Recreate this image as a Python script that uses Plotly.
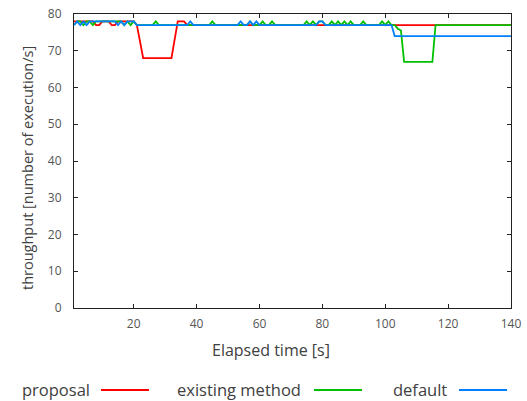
import plotly.graph_objects as go

# ---- data (breakpoints) ----
proposal_t = [1, 7, 8, 9, 10, 12, 13, 14, 15, 20, 21, 22, 23, 32, 33, 34, 36, 37, 140]
proposal_v = [78, 78, 77, 77, 78, 78, 77, 77, 78, 78, 77, 72.5, 68, 68, 73, 78, 78, 77, 77]

existing_t = [1, 2, 3, 4, 5, 6, 7, 8, 16, 17, 18, 19, 20, 21, 26, 27, 28, 44, 45, 46,
              56, 57, 58, 60, 61, 62, 63, 64, 65, 74, 75, 76, 77, 78, 79, 80, 81, 82,
              83, 84, 85, 86, 87, 88, 89, 90, 92, 93, 94, 98, 99, 100, 101, 102, 103,
              104, 105, 106, 115, 116, 140]
existing_v = [77, 78, 78, 77, 78, 78, 77, 78, 78, 77, 78, 77, 78, 77, 77, 78, 77, 77, 78, 77,
              77, 78, 77, 77, 78, 77, 77, 78, 77, 77, 78, 77, 78, 77, 78, 78, 77, 77,
              78, 77, 78, 77, 78, 77, 78, 77, 77, 78, 77, 77, 78, 77, 78, 77, 77,
              76, 75.5, 67, 67, 77, 77]

default_t = [1, 2, 3, 4, 5, 6, 14, 15, 16, 17, 18, 20, 21, 37, 38, 39, 53, 54, 55, 56,
             57, 58, 59, 60, 78, 79, 80, 81, 102, 103, 140]
default_v = [77, 78, 77, 78, 77, 78, 78, 77, 78, 77, 78, 78, 77, 77, 78, 77, 77, 78, 77, 77,
             78, 77, 78, 77, 77, 78, 78, 77, 77, 74, 74]

series_names = ["proposal", "existing method", "default"]
series_colors = ["#ff0000", "#00c000", "#0080ff"]
x_ticks = [20, 40, 60, 80, 100, 120, 140]
y_ticks = [0, 10, 20, 30, 40, 50, 60, 70, 80]

# ---- geometry (pixels) ----
W, H = 527, 401
L, R, T, B = 74, 16, 14, 93
PW, PH = W - L - R, H - T - B


def px(x):
    return (x - L) / PW


def py(y):
    return (H - B - y) / PH


FONT = "Open Sans"
TXT = "#404040"

fig = go.Figure()
for name, t, v, c in zip(series_names,
                         [proposal_t, existing_t, default_t],
                         [proposal_v, existing_v, default_v],
                         series_colors):
    fig.add_trace(go.Scatter(x=t, y=v, mode="lines", name=name,
                             line=dict(color=c, width=1.8), showlegend=False))

axis_common = dict(showgrid=False, zeroline=False, showline=True, mirror="ticks",
                   linecolor="#222", linewidth=1, ticks="inside", ticklen=4,
                   tickcolor="#222", automargin=False,
                   tickfont=dict(family=FONT, size=12, color="#555"))

fig.update_layout(
    width=W, height=H, autosize=False,
    margin=dict(l=L, r=R, t=T, b=B, pad=0, autoexpand=False),
    paper_bgcolor="white", plot_bgcolor="white",
    xaxis=dict(range=[1, 140], tickvals=x_ticks, ticklabelstandoff=5, **axis_common),
    yaxis=dict(range=[0, 80], tickvals=y_ticks, ticklabelstandoff=9, **axis_common),
)

annotations = [
    dict(text="Elapsed time [s]", x=px(271), y=py(350), xref="paper", yref="paper",
         showarrow=False, xanchor="center", yanchor="middle",
         font=dict(family=FONT, size=16, color=TXT)),
    dict(text="throughput [number of execution/s]", x=px(27), y=py(168),
         xref="paper", yref="paper", showarrow=False, textangle=-90,
         xanchor="center", yanchor="middle",
         font=dict(family=FONT, size=14.5, color=TXT)),
]
shapes = []
legend_text_right = [92, 303, 449]
legend_line = [(101, 149), (314, 362), (459, 507)]
ly = 389
for name, c, xr, (x0, x1) in zip(series_names, series_colors, legend_text_right, legend_line):
    annotations.append(dict(text=name, x=px(xr), y=py(ly), xref="paper", yref="paper",
                            showarrow=False, xanchor="right", yanchor="middle",
                            font=dict(family=FONT, size=16.5, color=TXT)))
    shapes.append(dict(type="line", xref="paper", yref="paper",
                       x0=px(x0), x1=px(x1), y0=py(ly + 1), y1=py(ly + 1),
                       line=dict(color=c, width=2)))

fig.update_layout(annotations=annotations, shapes=shapes)
fig.write_html("out.html", config={"displayModeBar": False},
               post_script="document.body.style.margin='0px';document.body.style.overflow='hidden';")
